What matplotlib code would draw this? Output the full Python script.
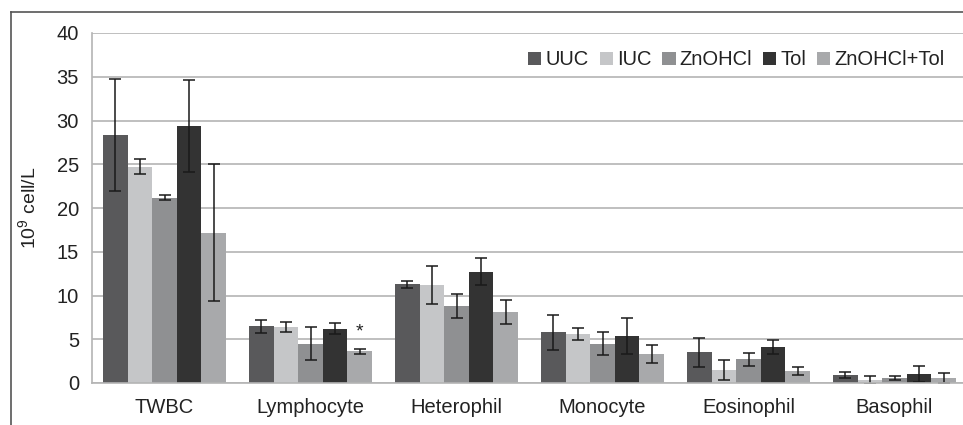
import numpy as np
import matplotlib
matplotlib.use("Agg")
import matplotlib.pyplot as plt
from matplotlib.lines import Line2D

plt.rcParams['font.family'] = ['Liberation Sans', 'DejaVu Sans']
plt.rcParams['mathtext.fontset'] = 'custom'
plt.rcParams['mathtext.rm'] = 'Liberation Sans'

categories = ["TWBC", "Lymphocyte", "Heterophil", "Monocyte", "Eosinophil", "Basophil"]
groups = ["UUC", "IUC", "ZnOHCl", "Tol", "ZnOHCl+Tol"]

uuc = [28.4, 6.5, 11.3, 5.8, 3.5, 0.9]
iuc = [24.7, 6.4, 11.2, 5.6, 1.5, 0.34]
znohcl = [21.2, 4.5, 8.8, 4.5, 2.7, 0.57]
tol = [29.4, 6.2, 12.7, 5.4, 4.1, 1.03]
zn_tol = [17.2, 3.65, 8.1, 3.3, 1.4, 0.55]

uuc_err = [6.4, 0.75, 0.4, 2.0, 1.65, 0.35]
iuc_err = [0.85, 0.55, 2.15, 0.7, 1.1, 0.5]
znohcl_err = [0.3, 1.85, 1.35, 1.3, 0.75, 0.2]
tol_err = [5.25, 0.65, 1.55, 2.05, 0.8, 0.9]
zn_tol_err = [7.8, 0.28, 1.4, 1.05, 0.45, 0.55]

colors = ["#59595b", "#c5c6c8", "#8f9092", "#333333", "#a8a9ab"]

values = [uuc, iuc, znohcl, tol, zn_tol]
errors = [uuc_err, iuc_err, znohcl_err, tol_err, zn_tol_err]

fig = plt.figure(figsize=(9.63, 4.25), dpi=100)
ax = fig.add_axes([91.5 / 963, 42 / 425, 876 / 963, 350 / 425])

x = np.arange(len(categories))
w = 0.168
for i, (vals, errs) in enumerate(zip(values, errors)):
    ax.bar(x + (i - 2) * w, vals, w, color=colors[i], label=groups[i], zorder=2,
           yerr=errs, error_kw=dict(ecolor="#1a1a1a", elinewidth=1.1, capsize=4.5, capthick=1.1))

# significance mark on ZnOHCl+Tol lymphocyte
ax.text(x[1] + 2 * w, zn_tol[1] + zn_tol_err[1] + 0.9, "*", ha="center", va="bottom",
        fontsize=14, color="#222222")

ax.set_xlim(-0.5, len(categories) - 0.5)
ax.set_ylim(0, 40)
ax.set_yticks(np.arange(0, 41, 5))
ax.set_xticks(x)
ax.set_xticklabels(categories)
ax.tick_params(axis="both", length=0, labelsize=14.5, colors="#222222")
ax.tick_params(axis="x", pad=11)
ax.tick_params(axis="y", pad=9)
ax.yaxis.grid(True, color="#b4b4b4", linewidth=1.2, zorder=0)
ax.set_axisbelow(True)
for s in ["top", "right"]:
    ax.spines[s].set_visible(False)
ax.spines["left"].set_color("#b4b4b4")
ax.spines["bottom"].set_color("#b4b4b4")
ax.spines["left"].set_linewidth(1.2)
ax.spines["bottom"].set_linewidth(1.2)
ax.set_ylabel("10$^{9}$ cell/L", fontsize=14, color="#222222", labelpad=12)

ax.legend(loc="center right", bbox_to_anchor=(0.974, 0.923), ncol=5, frameon=False,
          fontsize=14.5, handlelength=0.65, handleheight=0.65, handletextpad=0.2,
          columnspacing=0.55, borderaxespad=0, borderpad=0, labelcolor="#222222")

# outer frame lines
fig.add_artist(Line2D([11 / 963, 1], [1 - 12 / 425, 1 - 12 / 425], color="#555555", linewidth=1.2))
fig.add_artist(Line2D([11 / 963, 11 / 963], [0, 1 - 12 / 425], color="#555555", linewidth=1.2))

fig.savefig("out.png", dpi=100)
